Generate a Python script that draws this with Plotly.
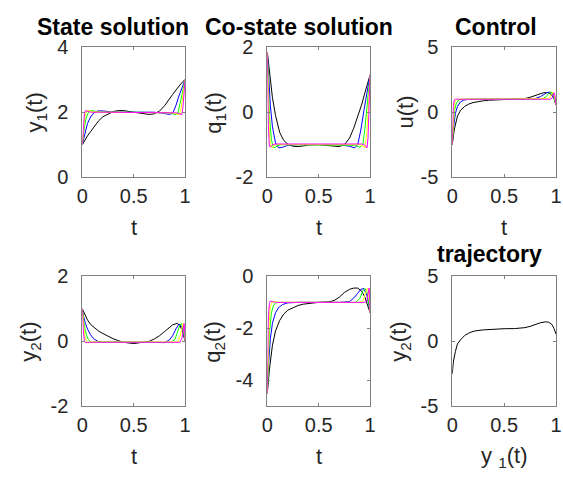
import plotly.graph_objects as go
from plotly.subplots import make_subplots

# ---------------- data ----------------
t_k = [0, 0.02, 0.05, 0.08, 0.12, 0.16, 0.2, 0.25, 0.3, 0.35, 0.4, 0.5, 0.6, 0.65, 0.7, 0.75, 0.8, 0.84, 0.88, 0.92, 0.95, 0.98, 1.0]
y1_k = [1.0, 1.12, 1.27, 1.40, 1.58, 1.74, 1.86, 1.95, 2.02, 2.05, 2.05, 2.0, 1.95, 1.93, 1.95, 2.03, 2.2, 2.36, 2.55, 2.72, 2.85, 2.95, 3.0]
q1_k = [1.85, 1.2, 0.45, -0.1, -0.62, -0.87, -0.99, -1.05, -1.06, -1.04, -1.01, -1.0, -1.03, -1.06, -1.06, -1.0, -0.8, -0.5, -0.15, 0.25, 0.6, 0.95, 1.15]
u_k = [-2.5, -1.3, -0.3, 0.15, 0.45, 0.63, 0.74, 0.82, 0.88, 0.92, 0.94, 0.97, 0.98, 1.0, 1.05, 1.15, 1.3, 1.42, 1.5, 1.5, 1.4, 1.05, 0.55]
y2_k = [1.0, 0.85, 0.66, 0.52, 0.4, 0.31, 0.24, 0.15, 0.08, 0.02, -0.03, -0.07, -0.03, 0.0, 0.07, 0.17, 0.3, 0.42, 0.51, 0.55, 0.5, 0.25, 0.0]
q2_k = [-4.5, -3.6, -2.65, -2.1, -1.7, -1.45, -1.3, -1.2, -1.12, -1.07, -1.04, -1.0, -0.98, -0.93, -0.8, -0.62, -0.5, -0.45, -0.45, -0.58, -0.8, -1.15, -1.4]

t_b = [0, 0.01, 0.03, 0.05, 0.08, 0.11, 0.15, 0.2, 0.3, 0.5, 0.7, 0.8, 0.85, 0.88, 0.91, 0.94, 0.97, 0.99, 1.0]
y1_b = [1.0, 1.15, 1.45, 1.65, 1.85, 1.97, 2.04, 2.04, 2.0, 2.0, 2.0, 1.96, 1.93, 1.97, 2.2, 2.5, 2.78, 2.93, 3.0]
q1_b = [1.85, 1.2, 0.2, -0.45, -0.95, -1.1, -1.08, -1.02, -1.0, -1.0, -1.0, -1.05, -1.1, -1.0, -0.55, 0.05, 0.65, 1.0, 1.15]
u_b = [-2.5, -1.3, -0.1, 0.45, 0.8, 0.93, 0.98, 1.0, 1.0, 1.0, 1.0, 1.05, 1.2, 1.35, 1.5, 1.55, 1.3, 0.9, 0.55]
y2_b = [1.0, 0.8, 0.55, 0.38, 0.2, 0.08, 0.0, -0.03, -0.02, -0.02, -0.02, -0.04, 0.05, 0.18, 0.38, 0.53, 0.45, 0.2, 0.0]
q2_b = [-4.5, -3.5, -2.4, -1.8, -1.4, -1.2, -1.08, -1.02, -1.0, -1.0, -1.0, -0.97, -0.8, -0.65, -0.5, -0.47, -0.75, -1.15, -1.4]

t_g = [0, 0.01, 0.02, 0.04, 0.06, 0.08, 0.1, 0.14, 0.2, 0.5, 0.8, 0.86, 0.9, 0.93, 0.95, 0.97, 0.98, 0.99, 1.0]
y1_g = [1.0, 1.3, 1.55, 1.85, 2.0, 2.05, 2.04, 2.01, 2.0, 2.0, 2.0, 1.98, 1.92, 1.97, 2.25, 2.6, 2.75, 2.9, 3.0]
q1_g = [1.85, 0.7, -0.1, -0.85, -1.1, -1.08, -1.03, -1.0, -1.0, -1.0, -1.0, -1.02, -1.08, -1.0, -0.5, 0.2, 0.5, 0.85, 1.15]
u_g = [-2.5, -0.8, 0.1, 0.7, 0.92, 0.98, 1.0, 1.0, 1.0, 1.0, 1.0, 1.02, 1.15, 1.45, 1.55, 1.4, 1.2, 0.9, 0.55]
y2_g = [1.0, 0.7, 0.45, 0.2, 0.05, -0.02, -0.03, -0.02, -0.02, -0.02, -0.02, -0.03, 0.05, 0.3, 0.5, 0.55, 0.4, 0.2, 0.0]
q2_g = [-4.5, -3.1, -2.2, -1.4, -1.12, -1.03, -1.0, -1.0, -1.0, -1.0, -1.0, -1.0, -0.85, -0.55, -0.47, -0.6, -0.8, -1.05, -1.4]

t_y = [0, 0.01, 0.02, 0.03, 0.05, 0.07, 0.1, 0.2, 0.5, 0.8, 0.9, 0.93, 0.95, 0.97, 0.98, 0.99, 1.0]
y1_y = [1.0, 1.45, 1.75, 1.95, 2.06, 2.04, 2.01, 2.0, 2.0, 2.0, 1.98, 1.93, 1.93, 2.3, 2.55, 2.8, 3.0]
q1_y = [1.85, 0.3, -0.6, -1.0, -1.1, -1.02, -1.0, -1.0, -1.0, -1.0, -1.0, -1.05, -1.1, -0.6, -0.1, 0.5, 1.15]
u_y = [-2.5, -0.2, 0.6, 0.9, 1.0, 1.0, 1.0, 1.0, 1.0, 1.0, 1.0, 1.05, 1.3, 1.55, 1.45, 1.1, 0.55]
y2_y = [1.0, 0.55, 0.25, 0.08, -0.03, -0.03, -0.02, -0.02, -0.02, -0.02, -0.02, -0.02, 0.15, 0.5, 0.55, 0.35, 0.0]
q2_y = [-4.5, -2.6, -1.6, -1.15, -0.98, -0.97, -1.0, -1.0, -1.0, -1.0, -1.0, -0.95, -0.7, -0.47, -0.5, -0.8, -1.4]

t_m = [0, 0.005, 0.01, 0.02, 0.03, 0.05, 0.08, 0.2, 0.5, 0.8, 0.92, 0.95, 0.97, 0.98, 0.99, 0.995, 1.0]
y1_m = [1.0, 1.3, 1.6, 1.95, 2.05, 2.02, 2.0, 2.0, 2.0, 2.0, 1.98, 1.94, 1.93, 2.2, 2.6, 2.85, 3.0]
q1_m = [1.85, 0.5, -0.4, -1.05, -1.08, -1.0, -0.98, -0.98, -0.98, -0.98, -0.98, -1.02, -1.1, -0.8, 0.0, 0.6, 1.15]
u_m = [-2.5, -0.5, 0.5, 0.95, 1.0, 1.0, 1.0, 1.0, 1.0, 1.0, 1.0, 1.0, 1.2, 1.5, 1.3, 0.9, 0.55]
y2_m = [1.0, 0.6, 0.3, 0.02, -0.04, -0.03, -0.03, -0.03, -0.03, -0.03, -0.03, -0.03, 0.1, 0.45, 0.55, 0.35, 0.0]
q2_m = [-4.5, -2.5, -1.6, -1.05, -0.95, -0.97, -1.0, -1.0, -1.0, -1.0, -1.0, -1.0, -0.9, -0.6, -0.45, -0.7, -1.4]

traj_x = [0, 0.01, 0.03, 0.05, 0.08, 0.12, 0.17, 0.22, 0.3, 0.4, 0.5, 0.6, 0.65, 0.7, 0.75, 0.8, 0.85, 0.9, 0.93, 0.96, 0.98, 1.0]
traj_y = [-2.5, -1.6, -0.78, -0.2, 0.12, 0.45, 0.68, 0.8, 0.88, 0.94, 0.97, 0.98, 1.0, 1.05, 1.15, 1.3, 1.43, 1.5, 1.47, 1.3, 1.0, 0.55]

titles = ["State solution", "Co-state solution", "Control", "", "", "trajectory"]
ylabels = ["y<sub>1</sub>(t)", "q<sub>1</sub>(t)", "u(t)", "y<sub>2</sub>(t)", "q<sub>2</sub>(t)", "y<sub>2</sub>(t)"]
xlabels = ["t", "t", "t", "t", "t", "y <sub>1</sub>(t)"]
yranges = [[0, 4], [-2, 2], [-5, 5], [-2, 2], [-5, 0], [-5, 5]]
yticks = [[0, 2, 4], [-2, 0, 2], [-5, 0, 5], [-2, 0, 2], [-4, -2, 0], [-5, 0, 5]]
yticklabels = [["0", "2", "4"], ["-2", "0", "2"], ["-5", "0", "5"], ["-2", "0", "2"], ["-4", "-2", "0"], ["-5", "0", "5"]]
xticks = [0, 0.5, 1]
xticklabels = ["0", "0.5", "1"]

series = [
    ("black", t_k, [y1_k, q1_k, u_k, y2_k, q2_k]),
    ("blue", t_b, [y1_b, q1_b, u_b, y2_b, q2_b]),
    ("#00ff00", t_g, [y1_g, q1_g, u_g, y2_g, q2_g]),
    ("#ffff00", t_y, [y1_y, q1_y, u_y, y2_y, q2_y]),
    ("#ff00ff", t_m, [y1_m, q1_m, u_m, y2_m, q2_m]),
]

# ---------------- figure ----------------
W, H = 563, 485
fig = make_subplots(rows=2, cols=3)
panel_rc = [(1, 1), (1, 2), (1, 3), (2, 1), (2, 2)]

for color, t, vals in series:
    for (r, c), v in zip(panel_rc, vals):
        fig.add_trace(go.Scatter(x=t, y=v, mode="lines", line=dict(color=color, width=1),
                                 showlegend=False, hoverinfo="skip"), row=r, col=c)
fig.add_trace(go.Scatter(x=traj_x, y=traj_y, mode="lines", line=dict(color="black", width=1),
                         showlegend=False, hoverinfo="skip"), row=2, col=3)

colx = [(78, 183), (267, 372), (456, 562)]
rowy = [(38, 174), (278, 414)]

font_fam = "Liberation Sans, Arial, Helvetica, sans-serif"
tick_font = dict(family=font_fam, size=20, color="#262626")
label_font = dict(family=font_fam, size=22, color="#262626")
title_font = dict(family=font_fam, size=23, color="black")

annotations = []
def px(x):
    return x / W
def py(y):
    return 1 - y / H

ylabel_x = [31, 214, 408, 25, 213, 403]
title_pos = [(109, 17), (299, 17), (501, 17), None, None, (494, 255)]

for i in range(6):
    r, c = divmod(i, 3)
    x0, x1 = colx[c]
    y0, y1 = rowy[r]
    xa = "xaxis" if i == 0 else f"xaxis{i+1}"
    ya = "yaxis" if i == 0 else f"yaxis{i+1}"
    common = dict(showline=True, linecolor="#808080", linewidth=1, mirror="allticks",
                  ticks="inside", ticklen=3, tickcolor="#808080", showgrid=False,
                  zeroline=False, tickfont=tick_font)
    fig.layout[xa].update(domain=[px(x0), px(x1)], range=[0, 1], tickvals=xticks,
                          ticktext=xticklabels, ticklabelstandoff=1, **common)
    fig.layout[ya].update(domain=[py(y1), py(y0)], range=yranges[i], tickvals=yticks[i],
                          ticktext=yticklabels[i], ticklabelstandoff=9, **common)
    annotations.append(dict(x=px(ylabel_x[i]), y=py((y0 + y1) / 2), xref="paper", yref="paper",
                            text=ylabels[i], textangle=-90, showarrow=False, font=label_font,
                            xanchor="center", yanchor="middle"))
    annotations.append(dict(x=px((x0 + x1) / 2), y=py(y1 + 53), xref="paper", yref="paper",
                            text=xlabels[i], showarrow=False, font=label_font,
                            xanchor="center", yanchor="middle"))
    if titles[i]:
        tx, ty = title_pos[i]
        annotations.append(dict(x=px(tx), y=py(ty), xref="paper", yref="paper",
                                text="<b>" + titles[i] + "</b>", showarrow=False, font=title_font,
                                xanchor="center", yanchor="middle"))

fig.update_layout(width=W, height=H, margin=dict(l=0, r=0, t=0, b=0),
                  paper_bgcolor="white", plot_bgcolor="white", annotations=annotations)

fig.write_html("out.html")
